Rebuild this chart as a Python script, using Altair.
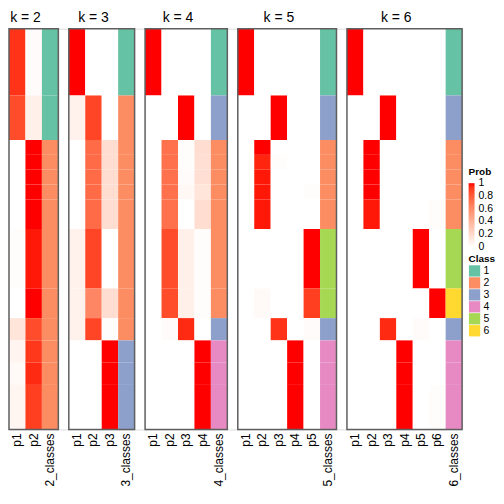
import altair as alt
import pandas as pd

# Row blocks (number of samples in each block, top to bottom)
BLOCK_SIZE = [9, 6, 2, 2, 2, 2, 4, 8, 4, 3, 3, 3, 6]

# k = 2
K2_P1 = [0.93, 0.86, 0, 0, 0, 0, 0, 0.01, 0, 0.14, 0.06, 0.03, 0.05]
K2_P2 = [0.02, 0.08, 1, 1, 1, 1, 1, 0.98, 1, 0.86, 0.92, 0.95, 0.9]
K2_CLS = [1, 1, 2, 2, 2, 2, 2, 2, 2, 2, 2, 2, 2]

# k = 3
K3_P1 = [1, 0.07, 0, 0, 0, 0, 0, 0.07, 0.07, 0.07, 0, 0, 0]
K3_P2 = [0, 0.88, 0.74, 0.74, 0.74, 0.74, 0.74, 0.88, 0.62, 0.88, 0, 0, 0]
K3_P3 = [0, 0, 0.18, 0.18, 0.18, 0.18, 0.18, 0, 0.18, 0.01, 1, 1, 1]
K3_CLS = [1, 2, 2, 2, 2, 2, 2, 2, 2, 2, 3, 3, 3]

# k = 4
K4_P1 = [1, 0, 0, 0, 0, 0, 0, 0, 0, 0, 0, 0, 0]
K4_P2 = [0, 0, 0.72, 0.72, 0.72, 0.72, 0.72, 0.86, 0.86, 0.02, 0, 0, 0]
K4_P3 = [0, 1, 0.01, 0.01, 0.02, 0.04, 0, 0.08, 0.08, 0.95, 0, 0, 0]
K4_P4 = [0, 0, 0.18, 0.17, 0.17, 0.14, 0.18, 0.01, 0.01, 0, 1, 1, 1]
K4_CLS = [1, 3, 2, 2, 2, 2, 2, 2, 2, 3, 4, 4, 4]

# k = 5
K5_P1 = [1, 0, 0, 0, 0, 0, 0, 0, 0, 0, 0, 0, 0]
K5_P2 = [0, 0, 1, 0.96, 0.98, 0.98, 0.98, 0, 0.03, 0, 0, 0, 0]
K5_P3 = [0, 1, 0, 0.01, 0, 0, 0, 0, 0, 0.93, 0, 0, 0]
K5_P4 = [0, 0, 0, 0, 0, 0, 0, 0, 0, 0, 1, 1, 1]
K5_P5 = [0, 0, 0, 0, 0, 0.01, 0, 1, 0.9, 0.02, 0, 0, 0]
K5_CLS = [1, 3, 2, 2, 2, 2, 2, 5, 5, 3, 4, 4, 4]

# k = 6
K6_P1 = [1, 0, 0, 0, 0, 0, 0, 0, 0, 0, 0, 0, 0]
K6_P2 = [0, 0, 1, 1, 1, 1, 0.98, 0, 0, 0, 0, 0, 0]
K6_P3 = [0, 1, 0, 0, 0, 0, 0, 0, 0, 0.95, 0, 0, 0]
K6_P4 = [0, 0, 0, 0, 0, 0, 0, 0, 0, 0, 1, 1, 1]
K6_P5 = [0, 0, 0, 0, 0, 0, 0, 1, 0, 0.02, 0, 0, 0]
K6_P6 = [0, 0, 0, 0, 0, 0, 0.01, 0, 1, 0, 0, 0, 0.01]
K6_CLS = [1, 3, 2, 2, 2, 2, 2, 5, 6, 3, 4, 4, 4]

CLASS_LABELS = ["1", "2", "3", "4", "5", "6"]
CLASS_COLORS = ["#66C2A5", "#FC8D62", "#8DA0CB", "#E78AC3", "#A6D854", "#FFD92F"]
PROB_TICKS = [0.002, 0.2, 0.4, 0.6, 0.8, 0.998]
KS = [2, 3, 4, 5, 6]

PROBS = {
    2: [K2_P1, K2_P2],
    3: [K3_P1, K3_P2, K3_P3],
    4: [K4_P1, K4_P2, K4_P3, K4_P4],
    5: [K5_P1, K5_P2, K5_P3, K5_P4, K5_P5],
    6: [K6_P1, K6_P2, K6_P3, K6_P4, K6_P5, K6_P6],
}
CLASSES = {2: K2_CLS, 3: K3_CLS, 4: K4_CLS, 5: K5_CLS, 6: K6_CLS}

FONT = "Liberation Sans"
COL_PX = 16.5          # pixel width of one column
GAP = 10.5 / COL_PX    # gap between panels, in column units
H = 402

N = sum(BLOCK_SIZE)
row_start = []
acc = 0
for b in BLOCK_SIZE:
    row_start.append(acc)
    acc += b

# panel start positions in column units
panel_start = {}
acc = 0.0
for k in KS:
    panel_start[k] = acc
    acc += (k + 1) + GAP
TOTAL = acc - GAP
W = TOTAL * COL_PX

heat_rows, cls_rows, frame_rows, title_rows, label_rows = [], [], [], [], []
for k in KS:
    s0 = panel_start[k]
    for j, vals in enumerate(PROBS[k]):
        for i, v in enumerate(vals):
            heat_rows.append({"x0": s0 + j, "x1": s0 + j + 1, "y0": row_start[i],
                              "y1": row_start[i] + BLOCK_SIZE[i], "prob": v})
        label_rows.append({"xc": s0 + j + 0.5, "y": N, "t": f"p{j+1}"})
    for i, c in enumerate(CLASSES[k]):
        cls_rows.append({"x0": s0 + k, "x1": s0 + k + 1, "y0": row_start[i],
                         "y1": row_start[i] + BLOCK_SIZE[i], "cls": str(c)})
    label_rows.append({"xc": s0 + k + 0.5, "y": N, "t": f"{k}_classes"})
    frame_rows.append({"x0": s0, "x1": s0 + k + 1, "y0": 0, "y1": N})
    title_rows.append({"xc": s0 + k / 2.0, "y": 0, "t": f"k = {k}"})

heat_df = pd.DataFrame(heat_rows)
cls_df = pd.DataFrame(cls_rows)
frame_df = pd.DataFrame(frame_rows)
title_df = pd.DataFrame(title_rows)
label_df = pd.DataFrame(label_rows)

xscale = alt.Scale(domain=[0, TOTAL], nice=False, zero=False)
yscale = alt.Scale(domain=[0, N], reverse=True, nice=False, zero=False)

prob_legend = alt.Legend(orient="none", legendX=461, legendY=139, title="Prob",
                         values=PROB_TICKS, gradientLength=64, gradientThickness=6,
                         direction="vertical", padding=0,
                         labelExpr="'' + round(datum.value * 10) / 10",
                         labelOverlap=False, labelOffset=4,
                         titleFontSize=10, titleFont=FONT, titleFontWeight="bold",
                         labelFontSize=10.5, labelFont=FONT, titlePadding=6,
                         labelColor="#000000", titleColor="#000000")
cls_legend = alt.Legend(orient="none", legendX=461, legendY=226, title="Class",
                        symbolType="square", symbolSize=128, symbolStrokeWidth=0,
                        symbolOpacity=1, rowPadding=0, labelOffset=3, padding=0,
                        titleFontSize=10, titleFont=FONT, titleFontWeight="bold",
                        labelFontSize=10.5, labelFont=FONT, titlePadding=1,
                        labelColor="#000000", titleColor="#000000")

heat = alt.Chart(heat_df).mark_rect().encode(
    x=alt.X("x0:Q", scale=xscale, axis=None), x2="x1:Q",
    y=alt.Y("y0:Q", scale=yscale, axis=None), y2="y1:Q",
    color=alt.Color("prob:Q", legend=prob_legend,
                    scale=alt.Scale(domain=[0, 1], range=["#FFFFFF", "#FF0000"],
                                    interpolate="lab")))

cls = alt.Chart(cls_df).mark_rect().encode(
    x=alt.X("x0:Q", scale=xscale), x2="x1:Q",
    y=alt.Y("y0:Q", scale=yscale), y2="y1:Q",
    color=alt.Color("cls:N", legend=cls_legend,
                    scale=alt.Scale(domain=CLASS_LABELS, range=CLASS_COLORS)))

frame = alt.Chart(frame_df).mark_rect(filled=False, stroke="#5f5f5f", strokeWidth=1.5).encode(
    x=alt.X("x0:Q", scale=xscale), x2="x1:Q",
    y=alt.Y("y0:Q", scale=yscale), y2="y1:Q")

titles = alt.Chart(title_df).mark_text(
    fontSize=14, font=FONT, color="#000000", baseline="alphabetic", align="center", dy=-7
).encode(x=alt.X("xc:Q", scale=xscale), y=alt.Y("y:Q", scale=yscale), text="t:N")

labels = alt.Chart(label_df).mark_text(
    fontSize=12, font=FONT, color="#000000", angle=270, align="right",
    baseline="middle", dx=-4
).encode(x=alt.X("xc:Q", scale=xscale), y=alt.Y("y:Q", scale=yscale), text="t:N")

chart = alt.layer(heat, cls, frame, titles, labels).resolve_scale(color="independent").properties(
    width=W, height=H,
    padding={"left": 0, "top": 2, "right": 0, "bottom": 0}
).configure_view(stroke=None).configure(font=FONT)

chart.save("out.html", embed_options={"renderer": "svg", "actions": False})
